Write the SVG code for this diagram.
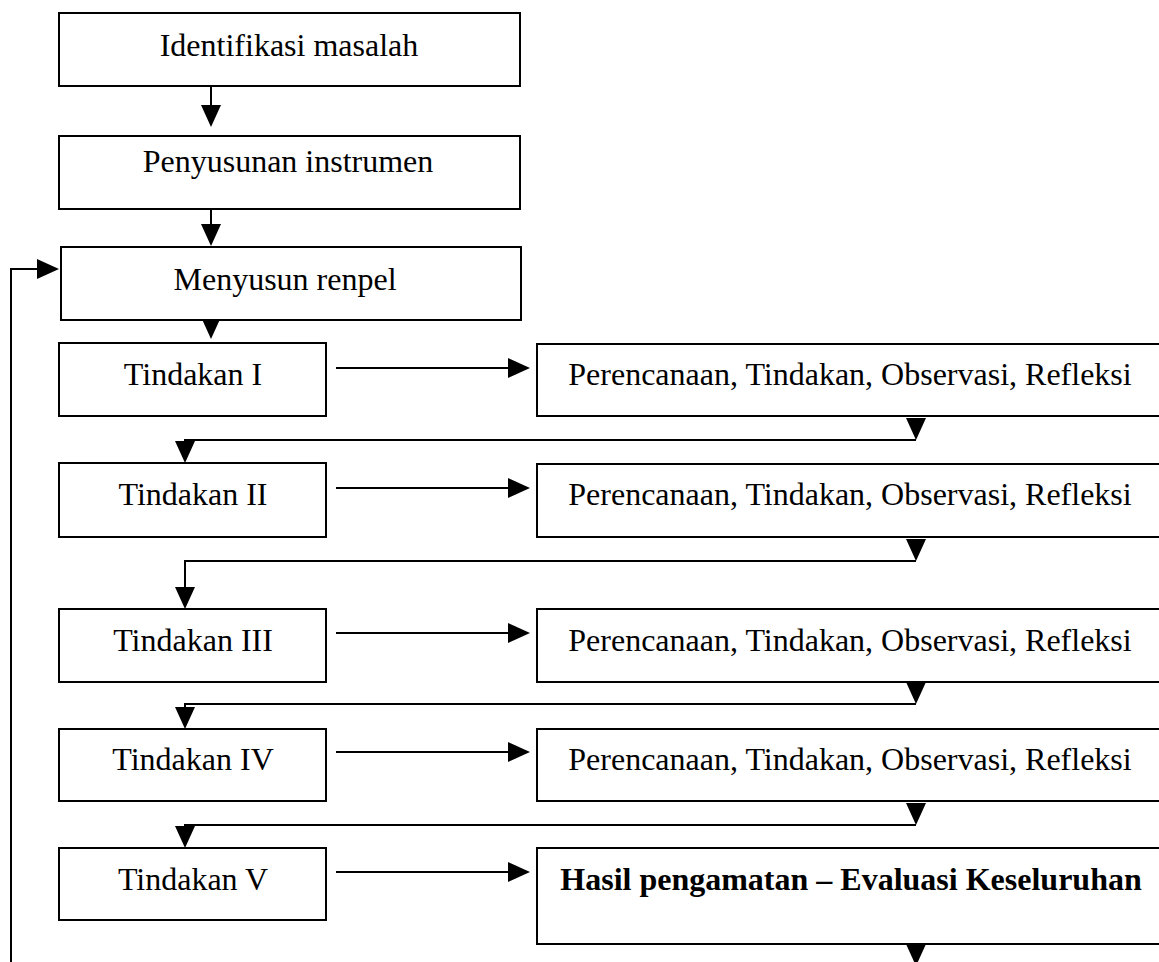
<svg xmlns="http://www.w3.org/2000/svg" width="1159" height="962" viewBox="0 0 1159 962">
<defs>
<style>
.box{fill:#fff;stroke:#000;stroke-width:2}
.lbl{font-family:"Liberation Serif","Times New Roman",serif;font-size:32px;fill:#000;text-anchor:middle}
.bold{font-weight:bold}
.con{fill:none;stroke:#000;stroke-width:2}
</style>
<marker id="ah" markerUnits="userSpaceOnUse" markerWidth="22" markerHeight="20" refX="14" refY="10" orient="auto" viewBox="0 0 22 20">
<path d="M0,0 L22,10 L0,20 Z" fill="#000"/>
</marker>
</defs>
<rect width="1159" height="962" fill="#fff"/>
<g id="connectors">
<path class="con" d="M211,86 V119" marker-end="url(#ah)"/>
<path class="con" d="M211,209 V238" marker-end="url(#ah)"/>
<path class="con" d="M211,320 V331" marker-end="url(#ah)"/>
<path class="con" d="M11,962 V269 H51" marker-end="url(#ah)"/>
<path class="con" d="M336,368 H522" marker-end="url(#ah)"/>
<path class="con" d="M336,488 H522" marker-end="url(#ah)"/>
<path class="con" d="M336,633 H522" marker-end="url(#ah)"/>
<path class="con" d="M336,752 H522" marker-end="url(#ah)"/>
<path class="con" d="M336,872 H522" marker-end="url(#ah)"/>
<path class="con" d="M916,418 V432" marker-end="url(#ah)"/>
<path class="con" d="M916,440 H185 V455" marker-end="url(#ah)"/>
<path class="con" d="M916,539 V553" marker-end="url(#ah)"/>
<path class="con" d="M916,561 H185 V601" marker-end="url(#ah)"/>
<path class="con" d="M916,683 V696" marker-end="url(#ah)"/>
<path class="con" d="M916,704 H185 V721" marker-end="url(#ah)"/>
<path class="con" d="M916,803 V817" marker-end="url(#ah)"/>
<path class="con" d="M916,825 H185 V840" marker-end="url(#ah)"/>
<path class="con" d="M916,946 V958" marker-end="url(#ah)"/>
</g>
<g id="identifikasi">
<rect class="box" x="59" y="13" width="461" height="73"/>
<text class="lbl" x="289" y="56">Identifikasi masalah</text>
</g>
<g id="penyusunan">
<rect class="box" x="59" y="136" width="461" height="73"/>
<text class="lbl" x="288" y="172">Penyusunan instrumen</text>
</g>
<g id="menyusun">
<rect class="box" x="61" y="247" width="460" height="73"/>
<text class="lbl" x="285" y="290">Menyusun renpel</text>
</g>
<g id="tindakan1">
<rect class="box" x="59" y="343" width="267" height="73"/>
<text class="lbl" x="193" y="385">Tindakan I</text>
</g>
<g id="prto1">
<rect class="box" x="537" y="344" width="625" height="72"/>
<text class="lbl" x="850" y="385">Perencanaan, Tindakan, Observasi, Refleksi</text>
</g>
<g id="tindakan2">
<rect class="box" x="59" y="463" width="267" height="74"/>
<text class="lbl" x="193" y="505">Tindakan II</text>
</g>
<g id="prto2">
<rect class="box" x="537" y="464" width="625" height="73"/>
<text class="lbl" x="850" y="505">Perencanaan, Tindakan, Observasi, Refleksi</text>
</g>
<g id="tindakan3">
<rect class="box" x="59" y="609" width="267" height="73"/>
<text class="lbl" x="193" y="651">Tindakan III</text>
</g>
<g id="prto3">
<rect class="box" x="537" y="609" width="625" height="73"/>
<text class="lbl" x="850" y="651">Perencanaan, Tindakan, Observasi, Refleksi</text>
</g>
<g id="tindakan4">
<rect class="box" x="59" y="729" width="267" height="72"/>
<text class="lbl" x="193" y="770">Tindakan IV</text>
</g>
<g id="prto4">
<rect class="box" x="537" y="729" width="625" height="72"/>
<text class="lbl" x="850" y="770">Perencanaan, Tindakan, Observasi, Refleksi</text>
</g>
<g id="tindakan5">
<rect class="box" x="59" y="848" width="267" height="72"/>
<text class="lbl" x="193" y="890">Tindakan V</text>
</g>
<g id="hasil">
<rect class="box" x="537" y="848" width="625" height="96"/>
<text class="lbl bold" x="851" y="890">Hasil pengamatan – Evaluasi Keseluruhan</text>
</g>
</svg>
